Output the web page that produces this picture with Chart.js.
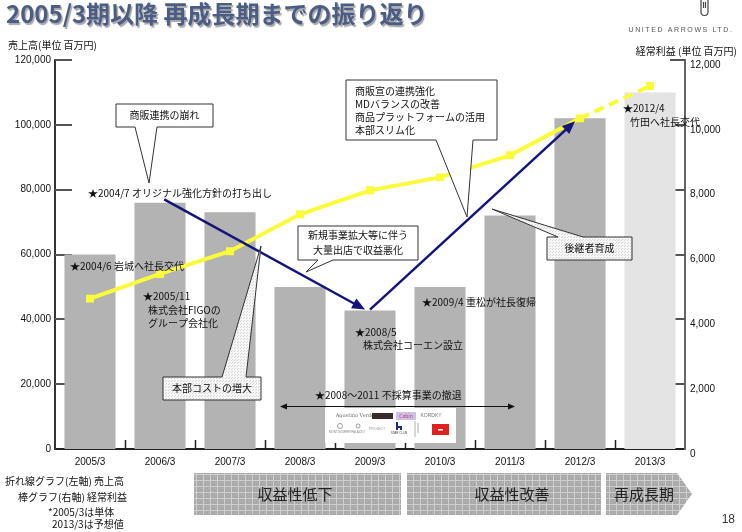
<!DOCTYPE html>
<html><head><meta charset="utf-8">
<script src="https://cdn.jsdelivr.net/npm/chart.js@4.4.0/dist/chart.umd.min.js"></script>
<style>html,body{margin:0;padding:0;background:#fff;}#wrap{width:742px;height:532px;position:relative;}</style>
</head><body><div id="wrap"><canvas id="c"></canvas></div>
<script>
// ---- data ----
const categories = ['2005/3','2006/3','2007/3','2008/3','2009/3','2010/3','2011/3','2012/3','2013/3'];
const salesValues = [46400, 54000, 61000, 72400, 79800, 83800, 90600, 102000, 112000];   // 売上高 (left axis, line)
const profitValues = [6000, 7600, 7300, 5000, 4270, 5000, 7200, 10200, 11000];            // 経常利益 (right axis, bars)
const forecastIndex = 8;
const salesTickLabels = ['0','20,000','40,000','60,000','80,000','100,000','120,000'];
const profitTickLabels = ['0','2,000','4,000','6,000','8,000','10,000','12,000'];

const JP = '"Noto Sans CJK JP","Noto Sans",sans-serif';
const AR = '"Liberation Sans",Arial,sans-serif';

function line(ctx,x1,y1,x2,y2){ctx.beginPath();ctx.moveTo(x1,y1);ctx.lineTo(x2,y2);ctx.stroke();}
function txt(ctx,s,x,y,size,opt={}){
  ctx.font=(opt.bold?'bold ':'')+size+'px '+(opt.family||JP);
  ctx.fillStyle=opt.color||'#111';
  ctx.textAlign=opt.align||'left';
  ctx.textBaseline='middle';
  ctx.fillText(s,x,y);
}
function arrowHead(ctx,x1,y1,x2,y2,len,hw){
  const a=Math.atan2(y2-y1,x2-x1);
  ctx.beginPath();
  ctx.moveTo(x2,y2);
  ctx.lineTo(x2-len*Math.cos(a)+hw*Math.sin(a), y2-len*Math.sin(a)-hw*Math.cos(a));
  ctx.lineTo(x2-len*Math.cos(a)-hw*Math.sin(a), y2-len*Math.sin(a)+hw*Math.cos(a));
  ctx.closePath(); ctx.fill();
}
function makePattern(ctx,w,h,bg,draw){
  const c=document.createElement('canvas'); c.width=w; c.height=h;
  const g=c.getContext('2d'); g.fillStyle=bg; g.fillRect(0,0,w,h); draw(g);
  return ctx.createPattern(c,'repeat');
}
function callout(ctx,b,tail,fill){
  ctx.beginPath();
  const {x,y,w,h}=b;
  if(tail.side==='bottom'){
    ctx.moveTo(x,y);ctx.lineTo(x+w,y);ctx.lineTo(x+w,y+h);
    ctx.lineTo(tail.b2,y+h);ctx.lineTo(tail.tx,tail.ty);ctx.lineTo(tail.b1,y+h);
    ctx.lineTo(x,y+h);ctx.closePath();
  } else {
    ctx.moveTo(x,y);ctx.lineTo(tail.b1,y);ctx.lineTo(tail.tx,tail.ty);ctx.lineTo(tail.b2,y);
    ctx.lineTo(x+w,y);ctx.lineTo(x+w,y+h);ctx.lineTo(x,y+h);ctx.closePath();
  }
  ctx.fillStyle=fill; ctx.fill();
  ctx.strokeStyle='#333'; ctx.lineWidth=1; ctx.stroke();
}

// arrows in data space: [category index, sales value]
const trendArrows = [
  {from:[1.06,77000], to:[3.93,43000]},
  {from:[4.0,43000], to:[6.93,101100]}
];

const decor = {
  id:'decor',
  beforeDatasetsDraw(chart){
    const {ctx,chartArea:a,scales:{x,y,y1}}=chart;
    ctx.save();
    ctx.strokeStyle='#555'; ctx.lineWidth=2;
    y.ticks.forEach(t=>{ if(t.value===0) return; const p=Math.round(y.getPixelForValue(t.value)); line(ctx,a.left,p,a.left+17,p); });
    y1.ticks.forEach(t=>{ if(t.value===0) return; const p=Math.round(y1.getPixelForValue(t.value)); line(ctx,a.right-15,p,a.right,p); });
    ctx.strokeStyle='#222'; ctx.lineWidth=1.5;
    const half=(x.getPixelForValue(1)-x.getPixelForValue(0))/2;
    for(let i=1;i<categories.length;i++){ const bx=Math.round(x.getPixelForValue(i)-half)+0.5; line(ctx,bx,a.bottom,bx,a.bottom-9); }
    ctx.restore();
  },
  afterDatasetsDraw(chart){
    const {ctx,scales:{x,y}}=chart;
    ctx.save();
    // trend arrows
    ctx.strokeStyle='#14147a'; ctx.fillStyle='#14147a'; ctx.lineWidth=2.5;
    trendArrows.forEach(ar=>{
      const x1=x.getPixelForValue(ar.from[0]), y1p=y.getPixelForValue(ar.from[1]);
      const x2=x.getPixelForValue(ar.to[0]), y2p=y.getPixelForValue(ar.to[1]);
      const ang=Math.atan2(y2p-y1p,x2-x1);
      line(ctx,x1,y1p,x2-8*Math.cos(ang),y2p-8*Math.sin(ang));
      arrowHead(ctx,x1,y1p,x2,y2p,13,5.5);
    });
    const dots=makePattern(ctx,3,3,'#f7f7f7',g=>{g.fillStyle='#d4d4d4';g.fillRect(0,0,1,1);g.fillRect(1,2,1,1);});
    // callouts
    callout(ctx,{x:116,y:104,w:97,h:23},{side:'bottom',b1:135,b2:157,tx:149,ty:183},'#fff');
    txt(ctx,'商販連携の崩れ',164.5,115.5,10,{align:'center'});
    callout(ctx,{x:346,y:80,w:151,h:60},{side:'bottom',b1:436,b2:473,tx:467,ty:217},'#fff');
    txt(ctx,'商販宣の連携強化',355,91,10);
    txt(ctx,'MDバランスの改善',355,104,10);
    txt(ctx,'商品プラットフォームの活用',355,117,10);
    txt(ctx,'本部スリム化',355,130,10);
    callout(ctx,{x:298,y:226,w:120,h:34},{side:'bottom',b1:318,b2:333,tx:306,ty:272},'#fff');
    txt(ctx,'新規事業拡大等に伴う',358,235,10,{align:'center'});
    txt(ctx,'大量出店で収益悪化',358,250,10,{align:'center'});
    callout(ctx,{x:547,y:237,w:85,h:23},{side:'top',b1:558,b2:583,tx:492,ty:209},dots);
    txt(ctx,'後継者育成',589.5,248.5,10,{align:'center'});
    callout(ctx,{x:163,y:377,w:98,h:23},{side:'top',b1:222,b2:246,tx:261,ty:246},dots);
    txt(ctx,'本部コストの増大',212,388.5,10,{align:'center'});
    // star notes
    txt(ctx,'★2004/7 オリジナル強化方針の打ち出し',88,193,10);
    txt(ctx,'★2004/6 岩城へ社長交代',70,266,10);
    txt(ctx,'★2005/11',143,296,10);
    txt(ctx,'株式会社FIGOの',148,310,10);
    txt(ctx,'グループ会社化',148,323,10);
    txt(ctx,'★2008/5',355,332,10);
    txt(ctx,'株式会社コーエン設立',363,345,10);
    txt(ctx,'★2009/4 重松が社長復帰',422,302,10);
    txt(ctx,'★2012/4',623,108,10);
    txt(ctx,'竹田へ社長交代',630,122,10);
    txt(ctx,'★2008～2011 不採算事業の撤退',315,395,10);
    // double arrow
    ctx.strokeStyle='#111'; ctx.fillStyle='#111'; ctx.lineWidth=1;
    line(ctx,284,406.5,511,406.5);
    arrowHead(ctx,300,406.5,280,406.5,7,3);
    arrowHead(ctx,490,406.5,515,406.5,7,3);
    // brand logos box
    ctx.fillStyle='#fff'; ctx.fillRect(325,408,131,35);
    txt(ctx,'Agostino Verde',355,416,5,{family:'"DejaVu Serif",serif',color:'#666',align:'center'});
    ctx.fillStyle='#3a2a2a'; ctx.fillRect(372,413,21,6);
    ctx.fillStyle='#cfc0e6'; ctx.fillRect(396,412,20,8);
    txt(ctx,'Cabin',406,416,5,{color:'#c04080',align:'center'});
    txt(ctx,'KORDKY',431,416,5,{color:'#777',align:'center',family:AR});
    ctx.strokeStyle='#888'; ctx.lineWidth=0.8;
    ctx.beginPath(); ctx.arc(340,426,2.5,0,Math.PI*2); ctx.stroke();
    txt(ctx,'MONTGOMERY',340,432,3,{color:'#888',align:'center',family:AR});
    ctx.beginPath(); ctx.arc(358,426,2,0,Math.PI*2); ctx.stroke();
    txt(ctx,'PALAZZO',358,432,3,{color:'#888',align:'center',family:AR});
    txt(ctx,'PROJECT',377,429,3.5,{color:'#999',align:'center',family:AR});
    ctx.fillStyle='#1c2a8c'; ctx.fillRect(396,422,2,8); ctx.fillRect(396,426,6,2); ctx.fillRect(400,426,2,4);
    txt(ctx,'STAR CLUB',399,433,3,{color:'#444',align:'center',family:AR});
    ctx.strokeStyle='#999'; line(ctx,415,421,415,437); line(ctx,418,423,418,433);
    ctx.fillStyle='#e02020'; ctx.fillRect(432,424,17,11);
    ctx.fillStyle='#fff'; ctx.fillRect(438,429,5,1.5);
    ctx.restore();
  },
  afterDraw(chart){
    const {ctx}=chart;
    ctx.save();
    // title
    ctx.shadowColor='rgba(60,60,60,0.45)'; ctx.shadowOffsetX=1.5; ctx.shadowOffsetY=1.5; ctx.shadowBlur=1;
    txt(ctx,'2005/3期以降 再成長期までの振り返り',6,14,24,{bold:true,color:'#4b5d84'});
    ctx.shadowColor='transparent';
    // logo
    ctx.strokeStyle='#444'; ctx.lineWidth=1.2;
    ctx.beginPath(); ctx.moveTo(701,0); ctx.lineTo(701,12); ctx.arc(704.5,12,3.5,Math.PI,0,true); ctx.lineTo(708,0); ctx.stroke();
    line(ctx,703.5,2,703.5,8); line(ctx,705.5,2,705.5,8);
    if('letterSpacing' in ctx) ctx.letterSpacing='1.6px';
    txt(ctx,'UNITED ARROWS LTD.',681,30,7,{family:AR,color:'#555',align:'center'});
    if('letterSpacing' in ctx) ctx.letterSpacing='0px';
    // axis titles
    txt(ctx,'売上高(単位 百万円)',8,45,10);
    txt(ctx,'経常利益 (単位 百万円)',737,51,10,{align:'right'});
    // bottom notes
    txt(ctx,'折れ線グラフ(左軸) 売上高',5,481,10);
    txt(ctx,'棒グラフ(右軸) 経常利益',18,497,10);
    txt(ctx,'*2005/3は単体',48,512,10);
    txt(ctx,'2013/3は予想値',52,524,10);
    txt(ctx,'18',735,520,12,{family:AR,color:'#333',align:'right'});
    // phase arrows
    const grid=makePattern(ctx,7,6,'#a9a9a9',g=>{
      g.fillStyle='#cfcfcf'; g.fillRect(0,0,7,1); g.fillRect(0,0,1,6);
      g.fillStyle='#b9b9b9'; g.fillRect(3,3,1,1); g.fillRect(5,2,1,1);
    });
    ctx.fillStyle=grid;
    ctx.fillRect(194,473,207,42);
    ctx.fillRect(407,473,194,42);
    ctx.beginPath(); ctx.moveTo(606,473); ctx.lineTo(677,473); ctx.lineTo(692,494); ctx.lineTo(677,515); ctx.lineTo(606,515); ctx.closePath(); ctx.fill();
    txt(ctx,'収益性低下',295,494,15,{color:'#222',align:'center'});
    txt(ctx,'収益性改善',512,494,15,{color:'#222',align:'center'});
    txt(ctx,'再成長期',644,494,15,{color:'#222',align:'center'});
    ctx.restore();
  }
};

new Chart(document.getElementById('c'),{
  type:'bar',
  data:{
    labels:categories,
    datasets:[
      {type:'line',label:'売上高',data:salesValues,yAxisID:'y',order:0,
       borderColor:'#fbfb3a',backgroundColor:'#fbfb3a',borderWidth:4,tension:0,
       pointStyle:'rect',pointRadius:5.6,pointBorderWidth:0,pointHoverRadius:5.6,
       segment:{borderDash:c=>c.p1DataIndex===forecastIndex?[10,6]:[]}},
      {type:'bar',label:'経常利益',data:profitValues,yAxisID:'y1',order:1,
       backgroundColor:categories.map((c,i)=>i===forecastIndex?'#e4e4e4':'#b3b3b3'),
       barPercentage:0.73,categoryPercentage:1}
    ]
  },
  options:{
    responsive:true,maintainAspectRatio:false,animation:false,
    layout:{padding:{top:60,left:0,right:0,bottom:0}},
    plugins:{legend:{display:false},tooltip:{enabled:false}},
    scales:{
      x:{grid:{display:false,drawTicks:false},border:{display:true,color:'#222',width:2},
         ticks:{font:{family:AR,size:10},color:'#111',padding:7,maxRotation:0},
         afterFit:s=>{s.height=83;}},
      y:{position:'left',min:0,max:120000,grid:{display:false,drawTicks:false},
         border:{display:true,color:'#333',width:2},
         ticks:{stepSize:20000,font:{family:AR,size:10},color:'#111',padding:4,callback:(v,i)=>salesTickLabels[i]},
         afterFit:s=>{s.width=55;}},
      y1:{position:'right',min:0,max:12000,grid:{display:false,drawTicks:false},
         border:{display:true,color:'#666',width:2},
         ticks:{stepSize:2000,font:{family:AR,size:10},color:'#111',padding:5,labelOffset:5,callback:(v,i)=>profitTickLabels[i]},
         afterFit:s=>{s.width=57;}}
    }
  },
  plugins:[decor]
});
</script></body></html>
